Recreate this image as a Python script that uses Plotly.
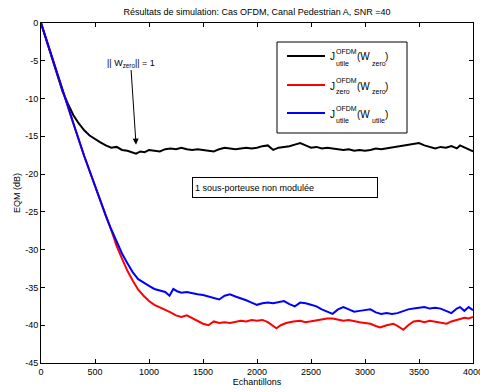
import plotly.graph_objects as go

# ---- data ----
black_x = [0, 50, 100, 150, 200, 250, 300, 350, 400, 450, 500, 550, 600, 650, 700, 750, 800, 850, 880, 920, 960,
           1000, 1050, 1100, 1150, 1200, 1250, 1300, 1350, 1400, 1450, 1500, 1550, 1600, 1650, 1700, 1750, 1800,
           1850, 1900, 1950, 2000, 2050, 2100, 2150, 2200, 2250, 2300, 2350, 2400, 2450, 2500, 2550, 2600, 2650,
           2700, 2750, 2800, 2850, 2900, 2950, 3000, 3050, 3100, 3150, 3200, 3250, 3300, 3350, 3400, 3450, 3500,
           3550, 3600, 3650, 3700, 3750, 3800, 3850, 3880, 3920, 3960, 4000]
black_y = [0, -2.3, -4.6, -7.0, -9.1, -10.7, -12.2, -13.3, -14.2, -14.9, -15.4, -15.8, -16.2, -16.5, -16.4, -16.8,
           -16.9, -17.1, -17.3, -17.0, -17.1, -16.8, -16.9, -17.0, -16.7, -16.6, -16.7, -16.5, -16.7, -16.8, -16.7,
           -16.8, -16.9, -17.0, -16.7, -16.5, -16.6, -16.7, -16.6, -16.5, -16.6, -16.5, -16.3, -16.2, -16.8, -16.5,
           -16.4, -16.3, -16.1, -15.9, -16.2, -16.5, -16.4, -16.6, -16.5, -16.6, -16.7, -16.8, -16.7, -16.9, -16.8,
           -16.9, -16.8, -16.6, -16.7, -16.6, -16.5, -16.4, -16.3, -16.2, -16.0, -15.9, -16.2, -16.4, -16.6, -16.4,
           -16.5, -16.3, -16.6, -16.2, -16.5, -16.8, -17.0]

red_x = [0, 100, 200, 300, 400, 500, 600, 650, 700, 750, 800, 850, 900, 950, 1000, 1050, 1100, 1150, 1200, 1250,
         1300, 1350, 1400, 1450, 1500, 1550, 1600, 1650, 1700, 1750, 1800, 1850, 1900, 1950, 2000, 2050, 2100, 2150,
         2180, 2220, 2270, 2336, 2400, 2450, 2500, 2550, 2600, 2650, 2700, 2750, 2800, 2850, 2900, 2950, 3000, 3050,
         3100, 3140, 3200, 3262, 3300, 3355, 3400, 3450, 3500, 3550, 3600, 3650, 3700, 3756, 3800, 3850, 3880, 3920,
         3960, 4000]
red_y = [0, -4.5, -9.0, -13.3, -17.6, -21.7, -25.5, -27.4, -29.5, -31.2, -32.8, -34.1, -35.3, -36.1, -36.8, -37.3,
         -37.6, -37.9, -38.3, -38.7, -38.9, -38.7, -39.1, -39.4, -39.8, -40.0, -39.5, -39.7, -39.6, -39.7, -39.5,
         -39.4, -39.5, -39.3, -39.4, -39.3, -39.6, -40.1, -40.4, -40.0, -39.7, -39.5, -39.4, -39.6, -39.5, -39.3,
         -39.2, -39.1, -39.1, -39.3, -39.4, -39.3, -39.5, -39.6, -39.7, -39.8, -40.1, -40.3, -40.0, -39.8, -40.1,
         -40.6, -40.0, -39.5, -39.4, -39.6, -39.4, -39.5, -39.6, -39.8, -39.5, -39.3, -39.2, -39.0, -39.1, -38.9]

blue_x = [0, 100, 200, 300, 400, 500, 600, 650, 700, 750, 800, 850, 900, 950, 1000, 1050, 1100, 1150, 1190, 1225,
          1260, 1300, 1350, 1400, 1450, 1500, 1550, 1600, 1650, 1700, 1750, 1800, 1850, 1900, 1950, 2000, 2050, 2100,
          2150, 2200, 2250, 2300, 2350, 2400, 2450, 2500, 2550, 2600, 2650, 2700, 2750, 2800, 2850, 2900, 2950, 3000,
          3050, 3100, 3150, 3200, 3250, 3300, 3350, 3400, 3450, 3500, 3550, 3600, 3650, 3700, 3750, 3800, 3850, 3880,
          3920, 3960, 4000]
blue_y = [0, -4.5, -9.0, -13.3, -17.6, -21.7, -25.5, -27.3, -29.0, -30.5, -31.8, -33.0, -33.9, -34.4, -34.8, -35.2,
          -35.4, -35.6, -36.1, -35.2, -35.5, -35.7, -35.6, -35.8, -35.9, -36.0, -36.2, -36.4, -36.6, -36.1, -35.9,
          -36.2, -36.4, -36.7, -37.0, -37.3, -37.1, -37.0, -37.1, -36.9, -36.8, -37.2, -37.5, -37.0, -37.1, -37.3,
          -37.5, -37.9, -38.2, -38.5, -37.9, -37.6, -37.9, -38.2, -38.1, -38.0, -37.9, -38.3, -38.5, -38.4, -38.5,
          -38.4, -38.1, -37.9, -37.8, -37.7, -37.6, -37.8, -37.7, -37.8, -38.1, -38.4, -37.8, -37.6, -38.1, -37.6,
          -38.0]

x_ticks = [0, 500, 1000, 1500, 2000, 2500, 3000, 3500, 4000]
y_ticks = [0, -5, -10, -15, -20, -25, -30, -35, -40, -45]

series_sub = ["utile", "zero", "utile"]
series_wsub = ["zero", "zero", "utile"]
series_color = ["black", "red", "blue"]

FONT = "Liberation Sans, Arial, sans-serif"
W, H = 480, 392
ML, MR, MT, MB = 41, 7, 23, 29
PW, PH = W - ML - MR, H - MT - MB


def px(xp):
    return (xp - ML) / PW


def py(yp):
    return (H - MB - yp) / PH


def f(size):
    return dict(size=size, color="black", family=FONT)


fig = go.Figure()
for xs, ys, c in [(black_x, black_y, "black"), (red_x, red_y, "red"), (blue_x, blue_y, "blue")]:
    fig.add_trace(go.Scatter(x=xs, y=ys, mode="lines", line=dict(color=c, width=2), showlegend=False,
                             hoverinfo="skip"))

shapes = []
annotations = []

# manual legend (stacked sub/superscripts like the original)
shapes.append(dict(type="rect", xref="paper", yref="paper", x0=px(277), x1=px(407), y0=py(42), y1=py(133),
                   line=dict(color="black", width=1), fillcolor="white", layer="above"))
for i, (sub, wsub, c) in enumerate(zip(series_sub, series_wsub, series_color)):
    ly = [56, 85, 113][i]
    shapes.append(dict(type="line", xref="paper", yref="paper", x0=px(287), x1=px(325), y0=py(ly), y1=py(ly),
                       line=dict(color=c, width=2), layer="above"))
    annotations += [
        dict(text="J", x=px(329), y=py(ly + 1), xanchor="left", yanchor="middle", font=f(10)),
        dict(text="OFDM", x=px(335), y=py(ly - 4.5), xanchor="left", yanchor="middle", font=f(7)),
        dict(text=sub, x=px(335), y=py(ly + 7), xanchor="left", yanchor="middle", font=f(7)),
        dict(text="(W", x=px(356), y=py(ly + 1), xanchor="left", yanchor="middle", font=f(10)),
        dict(text=wsub, x=px(371), y=py(ly + 7), xanchor="left", yanchor="middle", font=f(7)),
        dict(text=")", x=px(384), y=py(ly + 1), xanchor="left", yanchor="middle", font=f(10)),
    ]
for a in annotations:
    a.update(xref="paper", yref="paper", showarrow=False, borderpad=0)

# arrow annotation
annotations.append(dict(x=880, y=-16.1, xref="x", yref="y", ax=830, ay=-5.3, axref="x", ayref="y",
                        text="|| W<sub>zero</sub>|| = 1", showarrow=True, arrowhead=2, arrowsize=1.2,
                        arrowwidth=1, arrowcolor="black", font=f(9), standoff=0, startstandoff=0))
# text box
annotations.append(dict(x=1398, y=-21.8, xref="x", yref="y", xanchor="left", yanchor="middle",
                        text="1 sous-porteuse non modulée", showarrow=False, bordercolor="black", borderwidth=1,
                        bgcolor="white", width=180, height=15, align="left", borderpad=2, font=f(9)))

axis_common = dict(showgrid=False, zeroline=False, showline=True, linecolor="black", linewidth=1, mirror="ticks",
                   ticks="inside", ticklen=4, tickcolor="black", tickfont=f(9),
                   automargin=False, ticklabeloverflow="allow")

fig.update_layout(
    width=W, height=H,
    margin=dict(l=ML, r=MR, t=MT, b=MB, autoexpand=False),
    paper_bgcolor="white", plot_bgcolor="white",
    font=f(9),
    title=dict(text="Résultats de simulation: Cas OFDM, Canal Pedestrian A, SNR =40", x=0.5, xref="paper",
               xanchor="center", y=1 - 12 / H, yanchor="middle", font=f(9)),
    xaxis=dict(range=[0, 4000], tickvals=x_ticks, ticktext=[str(v) for v in x_ticks],
               title=dict(text="Echantillons", font=f(9), standoff=2), **axis_common),
    yaxis=dict(range=[-45, 0], tickvals=y_ticks, ticktext=[str(v) for v in y_ticks],
               title=dict(text="EQM (dB)", font=f(9), standoff=3), **axis_common),
    shapes=shapes, annotations=annotations, showlegend=False,
)

fig.write_html("out.html", config={"displayModeBar": False},
               post_script="document.body.style.margin='0';document.body.style.padding='0';"
                           "document.documentElement.style.overflow='hidden';")
